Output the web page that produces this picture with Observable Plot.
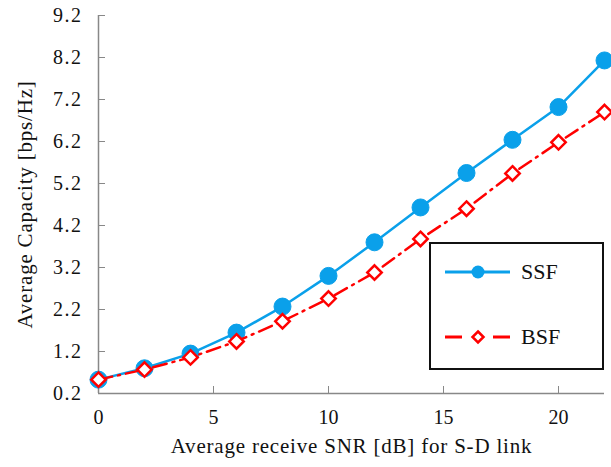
<!DOCTYPE html>
<html>
<head>
<meta charset="utf-8">
<script src="https://cdn.jsdelivr.net/npm/d3@7"></script>
<script src="https://cdn.jsdelivr.net/npm/@observablehq/plot@0.6"></script>
<style>
  html, body { margin: 0; padding: 0; background: #fff; }
  #wrap { position: relative; width: 611px; height: 467px; }
  #legend { position: absolute; left: 429px; top: 242px; width: 171px; height: 124px; border: 2px solid #111; background: #fff; font-family: "Liberation Serif", serif; }
</style>
</head>
<body>
<div id="wrap"></div>
<script>
const snr = [0, 2, 4, 6, 8, 10, 12, 14, 16, 18, 20, 22];
const ssf = [0.53, 0.80, 1.15, 1.65, 2.27, 3.00, 3.80, 4.63, 5.45, 6.24, 7.02, 8.13];
const bsf = [0.53, 0.77, 1.06, 1.44, 1.92, 2.46, 3.08, 3.88, 4.60, 5.44, 6.18, 6.90];
const seriesNames = ["SSF", "BSF"];
const xTicks = [0, 5, 10, 15, 20];
const yTicks = [0.2, 1.2, 2.2, 3.2, 4.2, 5.2, 6.2, 7.2, 8.2, 9.2];
const xLabel = "Average receive SNR [dB] for S-D link";
const yLabel = "Average Capacity [bps/Hz]";

const blue = "#0aa0ea";
const red = "#ff0000";

const ssfData = snr.map((x, i) => ({x, y: ssf[i]}));
const bsfData = snr.map((x, i) => ({x, y: bsf[i]}));

const font = "Liberation Serif";
const chart = Plot.plot({
  width: 611,
  height: 467,
  marginLeft: 98,
  marginRight: 7,
  marginTop: 15,
  marginBottom: 74,
  style: {fontFamily: font, fontSize: "20px", background: "transparent", color: "#111"},
  x: {domain: [0, 22], label: null},
  y: {domain: [0.2, 9.2], label: null},
  marks: [
    Plot.ruleX([0], {stroke: "#888", strokeWidth: 1.5}),
    Plot.ruleY([0.2], {stroke: "#888", strokeWidth: 1.5}),
    Plot.axisX({ticks: xTicks, tickSize: -7, stroke: "#888", tickPadding: 23, tickFormat: d => d, fontSize: 20, fill: "#111", label: null}),
    Plot.axisY({ticks: yTicks, tickSize: -7, stroke: "#888", tickPadding: 23, tickFormat: d3.format(".1f"), fontSize: 20, fill: "#111", label: null}),
    Plot.text([xLabel], {frameAnchor: "bottom", dy: 59, fontSize: 21, fill: "#111", textAnchor: "middle"}),
    Plot.text([yLabel], {frameAnchor: "left", dx: -73, rotate: -90, fontSize: 21, fill: "#111", textAnchor: "middle"}),
    Plot.line(ssfData, {x: "x", y: "y", stroke: blue, strokeWidth: 2.5}),
    Plot.dot(ssfData, {x: "x", y: "y", r: 8.5, fill: blue, stroke: blue, strokeWidth: 1}),
    Plot.line(bsfData, {x: "x", y: "y", stroke: red, strokeWidth: 2.5, strokeDasharray: "14,6,2,6"}),
    Plot.dot(bsfData, {x: "x", y: "y", symbol: "diamond2", r: 6.5, fill: "#fff", stroke: red, strokeWidth: 2.5})
  ]
});
const wrap = document.getElementById("wrap");
wrap.appendChild(chart);
chart.querySelectorAll("text").forEach(t => {
  if (t.textContent === xLabel) t.style.letterSpacing = "0.8px";
  if (t.textContent === yLabel) t.style.letterSpacing = "0.8px";
});
chart.querySelectorAll("[aria-label='y-axis tick label'] text").forEach(t => t.style.letterSpacing = "1.5px");

const legend = document.createElement("div");
legend.id = "legend";
const ns = "http://www.w3.org/2000/svg";
const svg = document.createElementNS(ns, "svg");
svg.setAttribute("width", 171);
svg.setAttribute("height", 124);
const items = [
  {name: seriesNames[0], color: blue, cy: 28},
  {name: seriesNames[1], color: red, cy: 93}
];
items.forEach((it, i) => {
  const line = document.createElementNS(ns, "line");
  line.setAttribute("x1", 14); line.setAttribute("x2", 79);
  line.setAttribute("y1", it.cy); line.setAttribute("y2", it.cy);
  line.setAttribute("stroke", it.color); line.setAttribute("stroke-width", 3);
  if (i === 1) line.setAttribute("stroke-dasharray", "17,31,17");
  svg.appendChild(line);
  if (i === 0) {
    const c = document.createElementNS(ns, "circle");
    c.setAttribute("cx", 47); c.setAttribute("cy", it.cy); c.setAttribute("r", 6.5);
    c.setAttribute("fill", it.color);
    svg.appendChild(c);
  } else {
    const p = document.createElementNS(ns, "path");
    const cx = 47, cy = it.cy, s = 5.5;
    p.setAttribute("d", `M${cx},${cy-s}L${cx+s},${cy}L${cx},${cy+s}L${cx-s},${cy}Z`);
    p.setAttribute("fill", "#fff"); p.setAttribute("stroke", it.color); p.setAttribute("stroke-width", 2.5);
    svg.appendChild(p);
  }
  const t = document.createElementNS(ns, "text");
  t.setAttribute("x", 90); t.setAttribute("y", it.cy + 7);
  t.setAttribute("font-size", 22); t.setAttribute("fill", "#111");
  t.setAttribute("font-family", font);
  t.textContent = it.name;
  svg.appendChild(t);
});
legend.appendChild(svg);
wrap.appendChild(legend);
</script>
</body>
</html>
